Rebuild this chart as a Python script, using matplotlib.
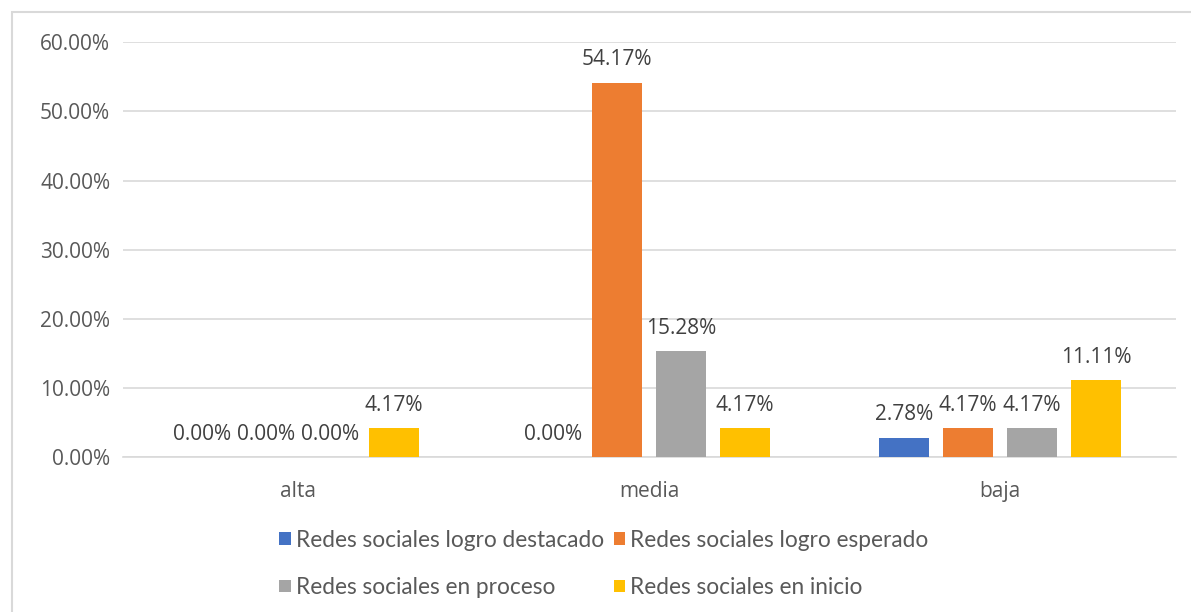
import numpy as np
import matplotlib
matplotlib.use("Agg")
import matplotlib.pyplot as plt
from matplotlib.patches import Rectangle
from matplotlib.ticker import FuncFormatter

plt.rcParams['font.family'] = ['Open Sans', 'DejaVu Sans']

categories = ['alta', 'media', 'baja']
series_names = ['Redes sociales logro destacado', 'Redes sociales logro esperado',
                'Redes sociales en proceso', 'Redes sociales en inicio']
destacado = [0.0, 0.0, 0.0278]
esperado = [0.0, 0.5417, 0.0417]
proceso = [0.0, 0.1528, 0.0417]
inicio = [0.0417, 0.0417, 0.1111]
colors = ['#4472C4', '#ED7D31', '#A5A5A5', '#FFC000']

fig = plt.figure(figsize=(11.91, 6.12), dpi=100)
ax = fig.add_axes([0.103, 0.253, 0.884, 0.678])

x = np.arange(len(categories))
width = 0.142
step = 0.182
handles = []
for i, (vals, col) in enumerate(zip([destacado, esperado, proceso, inicio], colors)):
    pos = x + (i - 1.5) * step
    bars = ax.bar(pos, vals, width, color=col, label=series_names[i], zorder=3)
    handles.append(bars)
    for xp, v in zip(pos, vals):
        ax.annotate(f'{v * 100:.2f}%', (xp, v), xytext=(0, 9), textcoords='offset points',
                    ha='center', va='bottom', fontsize=15, color='#404040')

ax.set_xlim(-0.5, 2.5)
ax.set_ylim(0, 0.6)
ax.set_yticks(np.arange(0, 0.61, 0.1))
ax.yaxis.set_major_formatter(FuncFormatter(lambda v, p: f'{v * 100:.2f}%'))
ax.set_xticks(x)
ax.set_xticklabels(categories)
ax.tick_params(axis='both', length=0, labelsize=15, colors='#595959')
ax.tick_params(axis='y', pad=9)
ax.tick_params(axis='x', pad=17)
ax.grid(axis='y', color='#D9D9D9', linewidth=1.2, zorder=0)
for s in ['top', 'right', 'left']:
    ax.spines[s].set_visible(False)
ax.spines['bottom'].set_color('#D9D9D9')
ax.spines['bottom'].set_linewidth(1.2)

# chart border
fig.patches.append(Rectangle((12 / 1191, -0.01), 1.1, 1 - 12 / 612 + 0.01, transform=fig.transFigure,
                             fill=False, edgecolor='#D9D9D9', linewidth=1.5))

# matplotlib fills legend column-wise, so reorder to get rows like the original
order = [0, 2, 1, 3]
leg = fig.legend([handles[k] for k in order], [series_names[k] for k in order],
                 loc='center', bbox_to_anchor=(604 / 1191, 1 - 564 / 612), ncol=2,
                 frameon=False, prop={'family': ['Lato', 'DejaVu Sans'], 'size': 16.3},
                 labelcolor='#595959',
                 handlelength=0.5, handleheight=0.5, handletextpad=0.22,
                 columnspacing=0.45, labelspacing=1.15)

fig.savefig('out.png', dpi=100)
